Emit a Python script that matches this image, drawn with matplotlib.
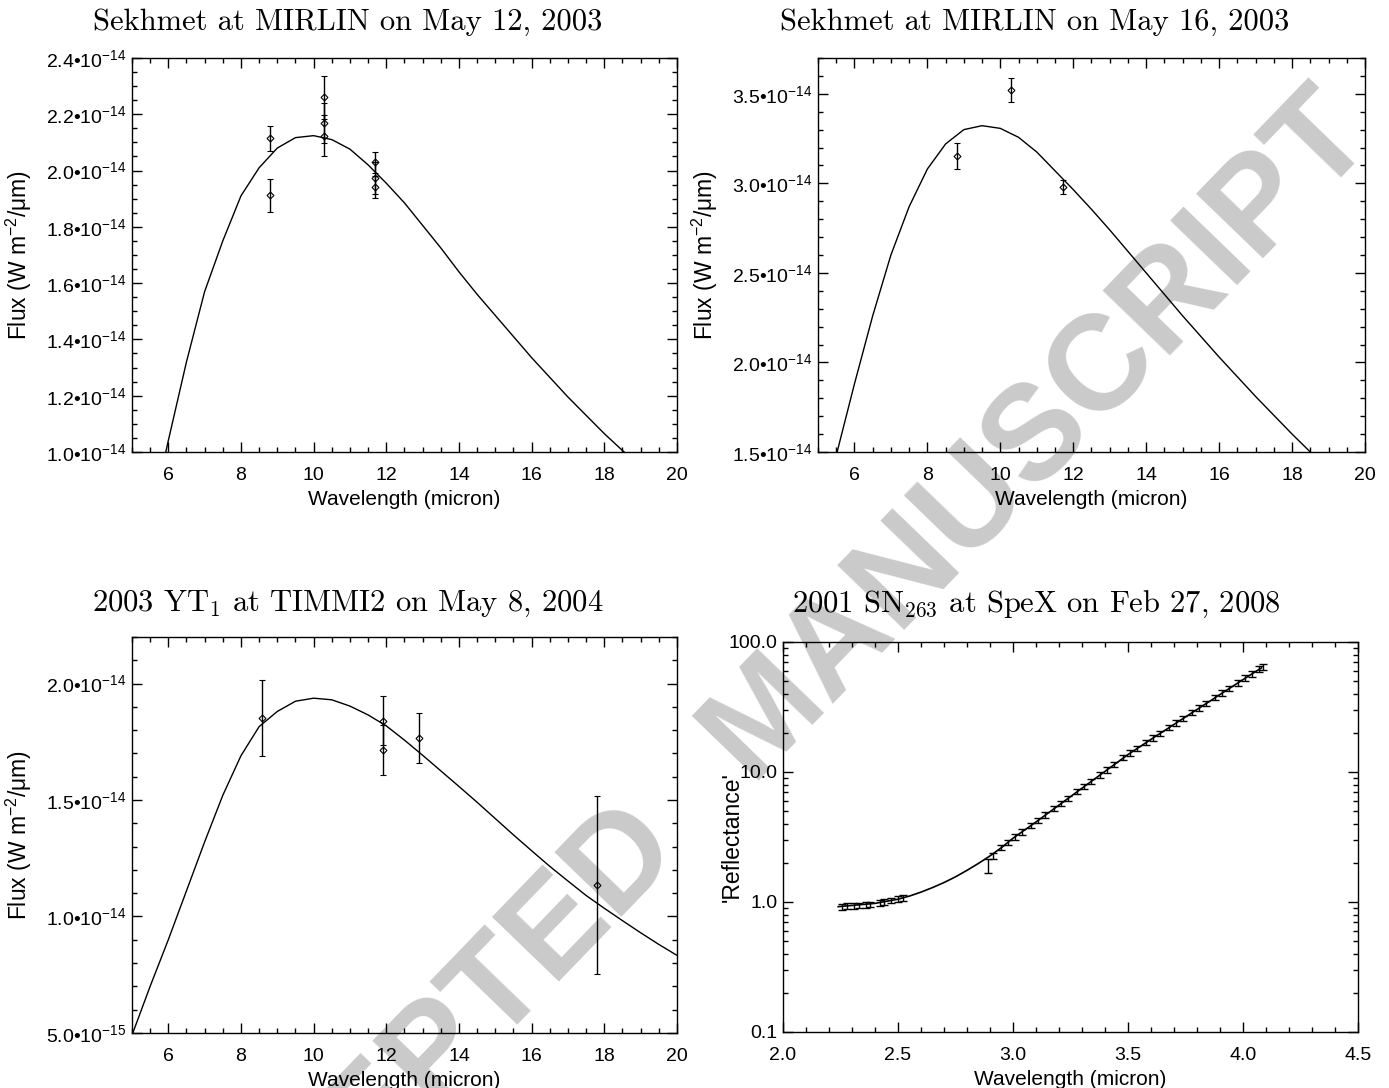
import numpy as np
import matplotlib
matplotlib.use('Agg')
import matplotlib.pyplot as plt
from matplotlib.ticker import MultipleLocator, FuncFormatter, LogLocator, NullFormatter, FixedLocator

plt.rcParams['font.family'] = ['Liberation Sans', 'DejaVu Sans']
plt.rcParams['mathtext.fontset'] = 'custom'
plt.rcParams['mathtext.rm'] = 'Liberation Sans'
plt.rcParams['mathtext.it'] = 'Liberation Sans:italic'
plt.rcParams['mathtext.bf'] = 'Liberation Sans:bold'

# --- data (flux in units of 1e-14 W m^-2 um^-1) ---
model_wave = [5.0, 5.5, 6.0, 6.5, 7.0, 7.5, 8.0, 8.5, 9.0, 9.5, 10.0, 10.5, 11.0, 11.5, 12.0,
              12.5, 13.0, 13.5, 14.0, 14.5, 15.0, 15.5, 16.0, 16.5, 17.0, 17.5, 18.0, 18.5,
              19.0, 19.5, 20.0]

# Sekhmet, May 12 2003
may12_x = [8.8, 8.8, 10.28, 10.28, 10.28, 11.69, 11.69, 11.69]
may12_flux = [2.114, 1.912, 2.260, 2.168, 2.124, 2.029, 1.975, 1.942]
may12_err = [0.046, 0.058, 0.076, 0.071, 0.073, 0.038, 0.057, 0.038]
may12_model = [0.45, 0.75, 1.04, 1.32, 1.57, 1.75, 1.91, 2.01, 2.08, 2.117, 2.124, 2.11, 2.076,
               2.02, 1.955, 1.885, 1.805, 1.725, 1.64, 1.56, 1.485, 1.41, 1.335, 1.265, 1.195,
               1.13, 1.065, 1.005, 0.95, 0.90, 0.85]

# Sekhmet, May 16 2003
may16_x = [8.82, 10.29, 11.71]
may16_flux = [3.152, 3.522, 2.979]
may16_err = [0.072, 0.066, 0.040]
may16_model = [1.05, 1.48, 1.88, 2.26, 2.60, 2.87, 3.08, 3.22, 3.30, 3.322, 3.307, 3.257, 3.175,
               3.07, 2.965, 2.855, 2.74, 2.62, 2.50, 2.38, 2.26, 2.145, 2.03, 1.92, 1.81,
               1.705, 1.60, 1.50, 1.41, 1.32, 1.24]

# 2003 YT1, May 8 2004
yt1_x = [8.59, 11.9, 11.9, 12.9, 17.8]
yt1_flux = [1.851, 1.841, 1.715, 1.765, 1.136]
yt1_err = [0.163, 0.107, 0.107, 0.107, 0.382]
yt1_model = [0.49, 0.70, 0.90, 1.11, 1.32, 1.52, 1.69, 1.815, 1.88, 1.924, 1.937, 1.93, 1.903,
             1.865, 1.818, 1.757, 1.692, 1.625, 1.558, 1.49, 1.42, 1.35, 1.282, 1.215, 1.152,
             1.09, 1.035, 0.982, 0.93, 0.88, 0.833]

# 2001 SN263, SpeX
spex_x = [2.255, 2.28, 2.31, 2.33, 2.36, 2.38, 2.42, 2.44, 2.47, 2.50, 2.52,
          2.893, 2.915, 2.95,
          2.98, 3.01, 3.04, 3.08, 3.11, 3.14, 3.18, 3.21, 3.24, 3.28, 3.31, 3.34, 3.38, 3.41,
          3.44, 3.48, 3.51, 3.54, 3.58, 3.61, 3.64, 3.68, 3.71, 3.74, 3.78, 3.81, 3.84, 3.88,
          3.91, 3.94, 3.98, 4.01, 4.04, 4.07, 4.085]
spex_refl = [0.92, 0.93, 0.935, 0.94, 0.95, 0.96, 0.98, 1.0, 1.03, 1.05, 1.07,
             1.90, 2.27, 2.63,
             2.88, 3.15, 3.44, 3.88, 4.25, 4.65, 5.24, 5.73, 6.27, 7.06, 7.73, 8.45, 9.53, 10.4,
             11.4, 12.9, 14.0, 15.2, 16.9, 18.3, 19.8, 22.0, 23.8, 25.8, 28.6, 31.0, 33.6, 37.3,
             40.4, 43.8, 48.6, 52.7, 57.0, 61.7, 64.2]
spex_err = [0.046, 0.047, 0.047, 0.047, 0.048, 0.048, 0.049, 0.05, 0.052, 0.053, 0.054,
            0.23, 0.12, 0.13,
            0.14, 0.16, 0.17, 0.19, 0.21, 0.23, 0.26, 0.29, 0.31, 0.35, 0.39, 0.42, 0.48, 0.52,
            0.57, 0.65, 0.7, 0.76, 0.85, 0.92, 0.99, 1.1, 1.2, 1.3, 1.4, 1.55, 1.7, 1.85,
            2.0, 2.2, 2.4, 2.6, 2.85, 3.1, 3.2]
spex_model_x = [2.24, 2.3, 2.4, 2.5, 2.55, 2.6, 2.65, 2.7, 2.75, 2.8, 2.85, 2.9, 2.95, 3.0,
                3.1, 3.2, 3.3, 3.4, 3.5, 3.6, 3.7, 3.8, 3.9, 4.0, 4.08]
spex_model_y = [0.92, 0.94, 0.975, 1.05, 1.11, 1.19, 1.29, 1.41, 1.56, 1.75, 1.98, 2.26,
                2.62, 3.09, 4.12, 5.56, 7.5, 10.1, 13.6, 17.8, 23.2, 30.2, 39.4, 51.3, 63.1]

titles = [r'Sekhmet at MIRLIN on May 12, 2003',
          r'Sekhmet at MIRLIN on May 16, 2003',
          r'2003 YT$_1$ at TIMMI2 on May 8, 2004',
          r'2001 SN$_{263}$ at SpeX on Feb 27, 2008']

S = 1e-14


def sci_fmt(v, pos):
    if v <= 0:
        return ''
    e = int(np.floor(np.log10(v) + 1e-9))
    m = v / 10.0**e
    return f'{m:.1f}\u202210$^{{{e}}}$'


def style_axes(ax):
    ax.set_facecolor('none')
    ax.tick_params(which='both', direction='in', top=True, right=True, labelsize=14)
    ax.tick_params(which='major', length=7, width=1)
    ax.tick_params(which='minor', length=3.5, width=1)
    ax.tick_params(axis='x', pad=11)
    ax.tick_params(axis='y', pad=4)
    for sp in ax.spines.values():
        sp.set_linewidth(1)


def flux_panel(ax, x, y, err, model, ylim, yticks, yminor):
    ax.plot(model_wave, np.array(model) * S, color='k', lw=1)
    ax.errorbar(x, np.array(y) * S, yerr=np.array(err) * S, fmt='D', ms=3.5, mfc='none',
                mec='k', mew=0.8, ecolor='k', elinewidth=1, capsize=2, capthick=1)
    ax.set_xlim(5, 20)
    ax.set_ylim(ylim[0] * S, ylim[1] * S)
    ax.xaxis.set_major_locator(MultipleLocator(2))
    ax.xaxis.set_minor_locator(MultipleLocator(0.5))
    ax.yaxis.set_major_locator(FixedLocator([t * S for t in yticks]))
    ax.yaxis.set_minor_locator(MultipleLocator(yminor * S))
    ax.yaxis.set_major_formatter(FuncFormatter(sci_fmt))
    ax.set_xlabel('Wavelength (micron)', fontsize=15, labelpad=4)
    ax.set_ylabel('Flux (W m$^{-2}$/\u03bcm)', fontsize=16.5)
    ax.yaxis.set_label_coords(-0.18, 0.5)
    style_axes(ax)


fig = plt.figure(figsize=(13.89, 10.88), dpi=100)
fig.patch.set_facecolor('white')

# watermark in two words, drawn beneath everything
wm = dict(rotation=46, rotation_mode='anchor', fontsize=97, fontweight='bold',
          color='#cacaca', va='center', zorder=-5)
fig.text(0.4734, 0.2412, 'ACCEPTED', ha='right', **wm)
fig.text(0.5220, 0.3054, 'MANUSCRIPT', ha='left', **wm)

ax1 = fig.add_axes([0.0950, 0.5846, 0.3924, 0.3621])
flux_panel(ax1, may12_x, may12_flux, may12_err, may12_model, (1.0, 2.4),
           [1.0, 1.2, 1.4, 1.6, 1.8, 2.0, 2.2, 2.4], 0.05)

ax2 = fig.add_axes([0.5889, 0.5846, 0.3938, 0.3621])
flux_panel(ax2, may16_x, may16_flux, may16_err, may16_model, (1.5, 3.7),
           [1.5, 2.0, 2.5, 3.0, 3.5], 0.1)

ax3 = fig.add_axes([0.0950, 0.0506, 0.3924, 0.3640])
flux_panel(ax3, yt1_x, yt1_flux, yt1_err, yt1_model, (0.5, 2.2),
           [0.5, 1.0, 1.5, 2.0], 0.1)

ax4 = fig.add_axes([0.5637, 0.0515, 0.4140, 0.3585])
ax4.plot(spex_model_x, spex_model_y, color='k', lw=1.2)
ax4.errorbar(spex_x, spex_refl, yerr=spex_err, fmt='none', ecolor='k', elinewidth=1,
             capsize=3, capthick=1)
ax4.set_yscale('log')
ax4.set_xlim(2.0, 4.5)
ax4.set_ylim(0.1, 100)
ax4.xaxis.set_major_locator(MultipleLocator(0.5))
ax4.xaxis.set_minor_locator(MultipleLocator(0.1))
ax4.xaxis.set_major_formatter(FuncFormatter(lambda v, p: f'{v:.1f}'))
ax4.yaxis.set_major_locator(FixedLocator([0.1, 1, 10, 100]))
ax4.yaxis.set_minor_locator(LogLocator(base=10, subs=np.arange(2, 10)))
ax4.yaxis.set_minor_formatter(NullFormatter())
ax4.yaxis.set_major_formatter(FuncFormatter(lambda v, p: f'{v:.1f}'))
ax4.set_xlabel('Wavelength (micron)', fontsize=15, labelpad=4)
ax4.set_ylabel("'Reflectance'", fontsize=16.5)
ax4.yaxis.set_label_coords(-0.068, 0.5)
style_axes(ax4)

title_pos = [(0.2505, 0.9798), (0.745, 0.9798), (0.2505, 0.4445), (0.746, 0.4445)]
for (tx, ty), t in zip(title_pos, titles):
    fig.text(tx, ty, t, fontsize=22, family='cmr10', math_fontfamily='cm',
             ha='center', va='center')

fig.savefig('out.png', dpi=100)
